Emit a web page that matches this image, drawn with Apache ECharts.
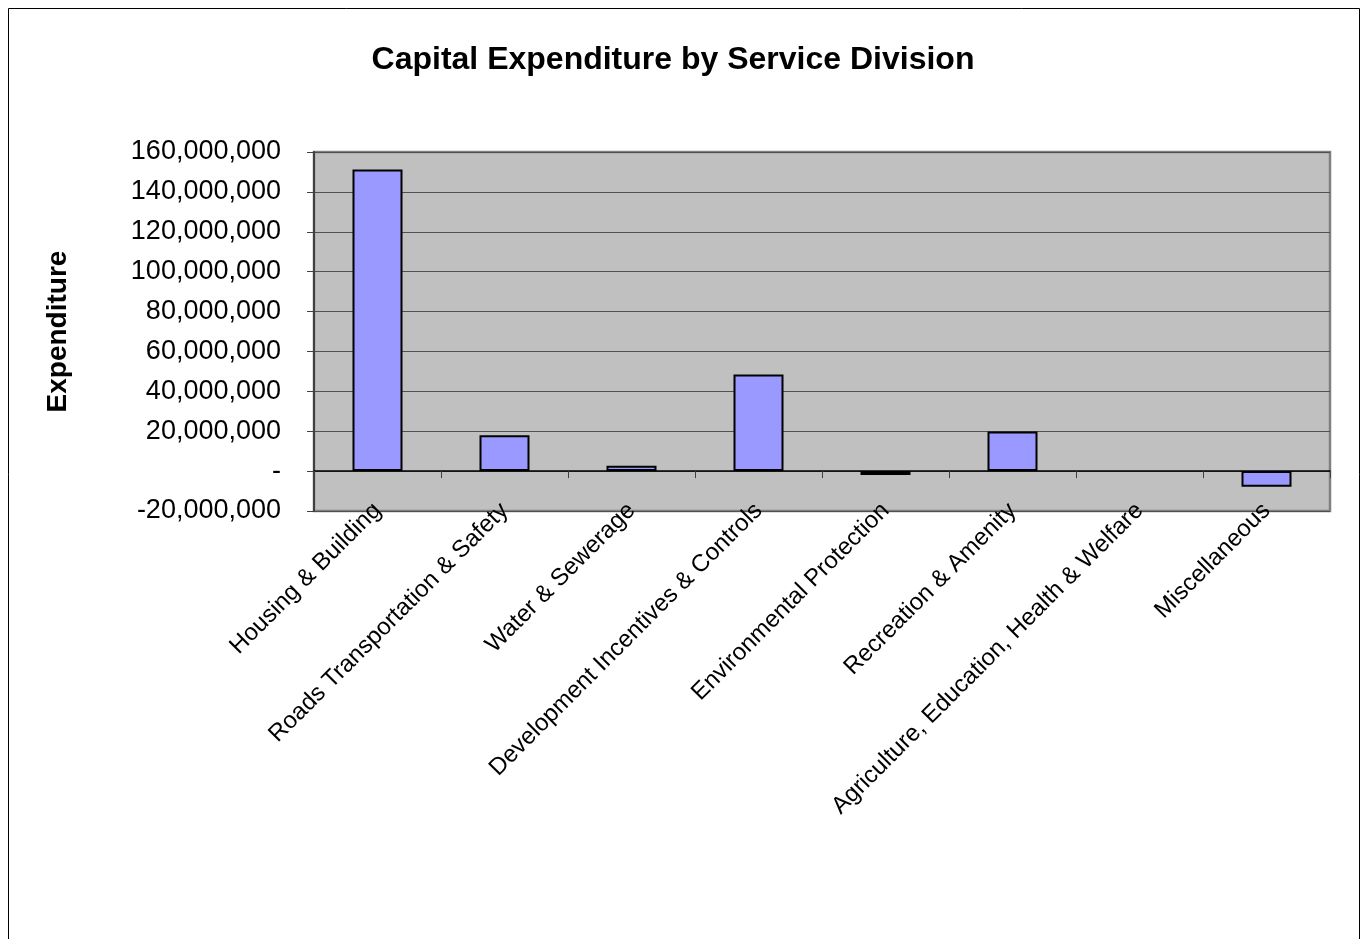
<!DOCTYPE html>
<html>
<head>
<meta charset="utf-8">
<script src="https://cdn.jsdelivr.net/npm/echarts@6/dist/echarts.min.js"></script>
<style>html,body{margin:0;padding:0;background:#fff;}#c{width:1368px;height:939px;}</style>
</head>
<body>
<div id="c"></div>
<script>
const titleText = "Capital Expenditure by Service Division";
const yAxisTitle = "Expenditure";
const categories = [
  "Housing & Building",
  "Roads Transportation & Safety",
  "Water & Sewerage",
  "Development Incentives & Controls",
  "Environmental Protection",
  "Recreation & Amenity",
  "Agriculture, Education, Health & Welfare",
  "Miscellaneous"
];
const expenditure = [151200000, 18000000, 2700000, 48400000, -2000000, 19800000, 0, -7800000];
const yMin = -20000000;
const yMax = 160000000;
const yStep = 20000000;

const FONT = "Liberation Sans, Arial, sans-serif";
const chart = echarts.init(document.getElementById('c'), null, {renderer: 'canvas'});
chart.setOption({
  animation: false,
  backgroundColor: '#ffffff',
  title: {
    text: titleText,
    left: 668,
    top: 39,
    textAlign: 'center',
    textStyle: {fontFamily: FONT, fontWeight: 'bold', fontSize: 32, color: '#000'}
  },
  graphic: [{
    type: 'rect',
    shape: {x: 8.5, y: 8.5, width: 1351, height: 960},
    style: {fill: 'none', stroke: '#000', lineWidth: 1},
    silent: true, z: -1
  }],
  grid: {
    left: 314, right: 38, top: 152, bottom: 428,
    show: true, backgroundColor: '#C0C0C0', borderColor: '#808080', borderWidth: 2.5
  },
  xAxis: [{
    type: 'category',
    data: categories,
    position: 'bottom',
    axisLine: {show: false, onZero: false},
    axisTick: {show: false},
    axisLabel: {
      interval: 0, rotate: 45, margin: -4,
      fontFamily: FONT, fontSize: 24, color: '#000'
    },
    splitLine: {show: false}
  }, {
    type: 'category',
    data: categories,
    position: 'bottom',
    axisLine: {show: true, onZero: true, lineStyle: {color: '#000', width: 1.5}},
    axisTick: {show: true, interval: 0, inside: false, length: 7, lineStyle: {color: '#404040', width: 1}},
    axisLabel: {show: false},
    splitLine: {show: false}
  }],
  yAxis: {
    type: 'value',
    min: yMin, max: yMax, interval: yStep,
    name: yAxisTitle,
    nameLocation: 'middle',
    nameRotate: 90,
    nameGap: 242,
    nameTextStyle: {fontFamily: FONT, fontWeight: 'bold', fontSize: 28, color: '#000'},
    axisLine: {show: true, lineStyle: {color: '#404040', width: 2}},
    axisTick: {show: true, length: 7, lineStyle: {color: '#404040', width: 1}},
    axisLabel: {
      fontFamily: FONT, fontSize: 27, color: '#000', margin: 33,
      formatter: function (v) { return v === 0 ? '-' : v.toLocaleString('en-US'); }
    },
    splitLine: {show: true, lineStyle: {color: '#505050', width: 1}}
  },
  series: [{
    type: 'bar',
    xAxisIndex: 1,
    data: expenditure.map(function (v) {
      return v === 0 ? {value: v, itemStyle: {borderWidth: 0}} : v;
    }),
    barWidth: 50,
    itemStyle: {color: '#9999FF', borderColor: '#000', borderWidth: 2},
    z: 3
  }]
});
</script>
</body>
</html>
